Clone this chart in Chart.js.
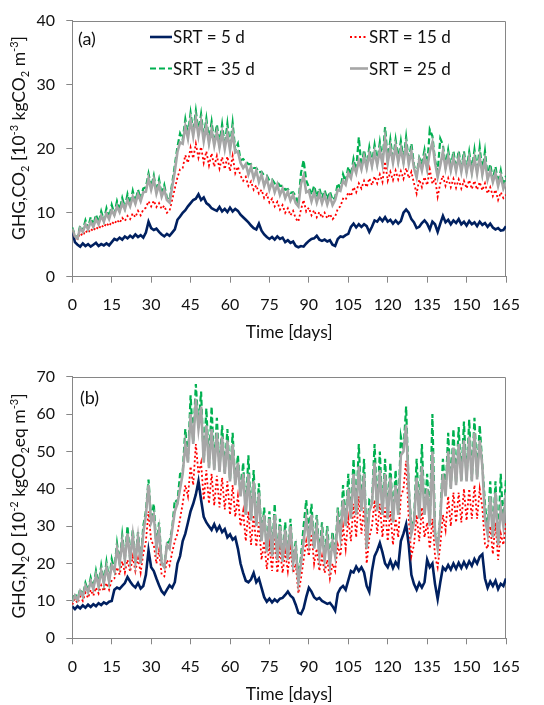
<!DOCTYPE html>
<html><head><meta charset="utf-8">
<script src="https://cdn.jsdelivr.net/npm/chart.js@4/dist/chart.umd.min.js"></script>
<style>
html,body{margin:0;padding:0;background:#fff;width:544px;height:705px;overflow:hidden}
canvas{position:absolute;left:0}
#ca{top:0}
#cb{top:350px}
</style></head><body>
<canvas id="ca" width="544" height="350"></canvas>
<canvas id="cb" width="544" height="355"></canvas>
<script>
// ---- data (daily samples, day 0..165) ----
const DAYS = Array.from({length:166},(_,i)=>i);
const X_TICK_STEP = 15;
const SERIES_NAMES = ['SRT = 5 d','SRT = 15 d','SRT = 35 d','SRT = 25 d'];

// Panel (a): GHG,CO2 [10^-3 kgCO2 m^-3]
const A_SRT5 = [
7.2,5.4,5.0,4.7,5.2,4.8,5.1,4.7,5.0,5.3,
4.8,5.1,4.9,5.2,4.9,5.4,5.9,5.7,6.1,5.8,
6.3,6.0,6.4,6.1,6.6,6.2,6.5,6.1,6.9,8.6,
7.6,7.3,7.5,7.0,6.6,6.3,6.7,6.4,6.9,7.4,
8.9,9.4,10.0,10.4,11.0,11.5,12.0,12.2,12.9,12.0,
12.4,11.5,11.2,10.7,10.5,10.3,10.9,10.2,10.6,10.1,
10.8,10.2,10.6,10.3,9.7,9.3,8.9,8.5,8.0,7.6,
7.4,8.3,7.2,6.6,6.2,5.9,6.2,5.8,6.3,5.9,
6.1,5.4,5.7,5.3,5.5,4.8,4.6,4.8,4.7,5.2,
5.6,5.9,6.0,6.4,5.8,5.6,5.8,5.5,5.7,5.0,
4.8,5.9,6.3,6.2,6.5,6.7,7.8,8.3,7.7,8.2,
7.8,8.2,7.9,7.0,7.8,8.8,8.6,9.2,8.7,9.3,
8.6,8.9,8.3,8.8,8.3,8.7,10.0,10.5,10.0,9.0,
8.5,7.6,7.8,8.4,8.8,8.3,7.4,8.6,8.2,7.0,
8.3,9.5,8.5,8.9,8.2,8.8,8.4,9.0,8.2,8.6,
8.0,8.7,8.2,8.5,7.9,8.6,8.1,8.4,7.8,8.3,
7.7,7.4,7.6,7.2,7.3,7.9];
const A_SRT15 = [
7.3,6.2,5.9,6.8,6.4,7.2,6.8,7.5,7.1,7.8,
7.4,8.1,7.7,8.4,7.9,8.6,8.2,8.9,8.4,9.2,
8.7,9.5,9.0,9.9,9.3,10.3,9.6,10.5,10.8,11.8,
11.0,11.9,10.9,11.5,10.6,11.1,10.0,10.3,12.0,13.8,
15.5,16.8,17.0,19.0,17.8,20.2,18.5,20.8,18.6,20.3,
17.8,19.6,17.4,19.3,17.2,18.9,16.9,18.7,16.8,18.8,
16.5,18.9,16.2,17.2,15.8,15.0,15.6,14.2,14.9,13.6,
14.3,13.0,13.6,12.3,12.9,11.6,12.2,11.0,11.7,10.5,
11.2,10.0,10.7,9.6,10.3,9.1,8.6,10.5,12.0,10.2,
10.8,9.6,10.4,9.3,10.1,9.2,10.0,9.1,9.8,9.0,
9.4,10.6,11.0,12.2,12.0,13.2,12.6,14.0,13.2,14.6,
13.8,15.0,14.0,15.4,14.3,15.7,14.6,16.0,14.8,18.0,
15.0,16.4,15.1,16.6,15.2,16.5,15.3,17.0,15.4,16.4,
14.6,13.0,15.2,14.0,15.6,14.3,16.8,14.5,15.4,12.5,
14.6,15.8,14.2,15.4,14.0,15.3,13.9,15.2,13.8,15.0,
13.8,15.1,13.7,15.0,13.6,14.8,13.5,14.6,13.0,14.0,
12.6,13.6,12.0,13.2,12.3,12.8];
const A_SRT35 = [
7.7,6.4,6.1,8.0,7.2,8.8,7.6,9.3,8.0,9.7,
8.4,10.2,8.8,10.7,9.2,11.2,9.8,11.8,10.4,12.3,
10.8,12.9,11.3,13.4,11.7,13.6,12.1,13.8,14.0,16.1,
14.0,15.8,13.3,15.2,12.8,14.3,12.3,12.0,14.6,17.4,
20.3,22.4,21.4,24.6,22.2,25.6,22.6,25.9,22.6,25.4,
21.8,24.7,21.3,24.2,21.0,23.8,20.7,23.8,20.5,23.9,
20.2,24.0,19.8,20.8,18.2,18.4,18.0,17.6,17.6,17.0,
17.0,16.3,16.4,15.8,15.8,15.0,15.2,14.6,14.8,14.2,
14.2,13.6,13.7,13.1,13.2,12.6,11.3,16.2,18.2,15.0,
14.0,12.8,14.2,12.5,13.8,12.3,13.5,12.1,13.3,12.0,
12.4,14.6,13.8,16.0,14.8,17.2,15.8,18.4,16.6,21.8,
17.2,19.8,17.4,20.2,17.7,20.6,17.9,21.0,18.0,23.4,
18.2,21.4,18.2,21.4,18.3,21.2,18.2,21.8,18.0,20.8,
17.4,16.0,18.6,17.6,19.8,17.2,23.0,22.0,18.2,16.4,
21.6,20.6,17.3,19.8,17.0,19.6,16.9,19.7,16.8,19.6,
16.7,19.5,16.6,19.8,16.5,20.2,16.4,19.6,15.6,17.6,
15.2,17.2,14.6,16.6,14.2,15.8];
const A_SRT25 = [
7.5,6.3,6.0,7.6,7.0,8.2,7.4,8.6,7.8,9.0,
8.2,9.5,8.6,9.9,9.0,10.4,9.6,11.0,10.1,11.5,
10.5,12.0,11.0,12.5,11.4,12.9,11.8,13.2,13.3,15.4,
13.6,15.2,13.0,14.4,12.5,13.6,12.0,11.6,14.0,16.5,
19.5,21.0,20.8,23.5,21.6,24.5,22.0,24.8,22.0,24.3,
21.2,23.6,20.8,23.0,20.5,22.6,20.2,22.5,20.0,22.4,
19.8,22.6,19.4,19.6,17.8,17.0,17.6,16.0,17.2,15.4,
16.6,14.8,16.0,14.2,15.4,13.6,14.8,13.2,14.4,12.8,
13.8,12.3,13.3,11.9,12.8,11.5,11.0,14.5,15.8,13.2,
13.4,11.8,13.2,11.6,13.0,11.5,12.8,11.3,12.6,11.2,
12.0,13.6,13.4,15.0,14.4,16.2,15.4,17.4,16.2,18.2,
16.8,18.8,17.0,19.2,17.3,19.5,17.5,19.8,17.6,21.6,
17.8,20.2,17.8,20.4,17.9,20.0,17.8,20.6,17.6,19.6,
17.0,15.5,18.2,16.6,18.8,16.8,19.5,21.0,17.8,15.6,
17.4,19.6,16.9,18.8,16.6,18.6,16.5,18.7,16.4,18.6,
16.3,18.5,16.2,18.6,16.1,18.7,16.0,18.2,15.2,16.6,
14.8,16.2,14.2,15.8,13.8,14.8];

// Panel (b): GHG,N2O [10^-2 kgCO2eq m^-3]
const B_SRT5 = [
8.5,7.8,8.6,8.0,8.8,8.2,9.0,8.4,9.1,8.6,
9.4,8.9,9.6,9.2,9.8,10.0,13.0,13.6,13.2,14.0,
14.8,16.4,15.2,14.2,13.6,14.8,13.3,14.0,17.0,23.5,
19.0,18.0,16.0,14.2,12.6,11.8,13.0,14.2,13.5,15.0,
20.0,22.0,26.0,28.0,31.0,34.0,36.0,38.5,42.0,37.0,
32.5,31.0,30.0,29.0,30.5,28.8,30.0,28.4,29.2,27.0,
27.8,26.4,27.0,24.0,20.0,17.5,15.4,15.0,15.8,17.5,
15.0,16.0,13.5,11.0,9.8,10.6,9.6,10.4,9.8,10.6,
10.8,11.6,12.5,11.4,10.8,9.0,6.8,6.5,8.0,11.0,
13.5,12.5,11.0,10.4,10.8,10.0,9.6,9.2,9.5,8.6,
7.4,12.0,13.4,14.0,13.0,15.5,18.0,17.6,19.2,18.0,
19.0,17.6,14.0,12.4,18.0,22.0,23.5,25.5,23.0,20.0,
19.0,20.8,18.8,20.4,19.2,26.0,28.0,30.5,25.0,17.0,
14.5,13.0,14.8,13.6,15.0,21.0,19.0,20.0,14.5,10.5,
15.0,19.0,18.2,19.6,18.4,20.0,18.6,20.2,18.8,20.4,
19.0,20.6,19.4,21.2,20.0,21.8,22.5,16.0,13.5,15.2,
14.0,15.4,13.2,14.6,14.0,16.0];
const B_SRT15 = [
9.0,10.6,9.4,11.2,10.0,12.2,10.8,13.0,11.4,13.6,
12.0,14.2,12.6,14.8,13.0,15.6,16.0,19.0,17.0,20.6,
17.6,21.0,17.8,21.8,18.0,21.4,17.6,22.6,26.0,34.0,
26.0,25.0,20.0,23.6,17.0,16.6,21.0,19.5,23.0,26.0,
28.0,32.0,36.0,41.0,38.0,46.0,41.0,52.0,44.0,47.0,
37.0,45.0,36.0,44.0,35.5,43.5,35.0,43.0,34.5,42.0,
33.0,41.0,32.5,38.0,30.0,34.0,26.0,34.0,25.0,33.0,
24.5,31.0,21.0,26.0,18.5,25.0,18.0,27.0,17.5,24.0,
17.5,23.0,18.0,24.0,17.5,20.0,12.0,16.0,21.0,26.0,
22.0,28.0,20.0,24.0,18.0,22.0,17.5,21.0,16.0,20.0,
18.0,25.0,22.0,30.0,24.0,32.0,26.0,36.0,27.0,38.0,
28.0,35.0,20.0,27.0,30.0,37.0,28.0,36.0,27.0,35.0,
26.0,34.0,25.0,32.0,27.0,38.0,40.0,47.5,32.0,22.0,
25.0,33.0,26.0,35.0,27.0,31.0,24.0,32.0,22.0,19.0,
25.0,33.0,29.0,38.0,30.0,39.0,31.0,39.0,31.0,40.0,
31.5,40.0,32.0,41.0,32.0,40.0,35.0,25.0,24.0,30.0,
22.5,31.0,21.0,28.0,25.0,31.0];
const B_SRT35 = [
10.0,12.0,10.4,13.2,11.4,14.8,12.6,16.2,13.4,18.0,
14.2,19.4,15.0,20.4,15.4,21.2,18.4,25.4,20.2,27.6,
21.2,30.0,21.2,29.0,20.6,28.4,20.2,30.0,34.0,42.5,
31.4,36.0,24.2,31.0,20.2,19.4,25.4,26.0,29.4,37.0,
36.4,44.0,44.4,56.0,47.4,65.0,52.4,68.0,56.4,66.0,
47.4,61.5,46.0,62.0,45.4,59.0,45.0,57.0,44.4,56.0,
42.4,55.0,41.4,49.0,38.4,47.0,33.4,49.0,32.0,45.0,
30.4,41.5,26.4,35.0,23.4,34.0,22.4,36.0,21.4,32.0,
21.0,31.0,21.4,32.0,20.4,26.0,15.4,22.0,30.0,37.0,
28.0,36.0,24.4,33.0,22.4,31.0,21.4,30.0,20.0,28.5,
22.4,35.0,27.4,41.0,30.4,44.0,32.4,48.0,33.4,52.0,
34.4,48.0,24.4,37.0,36.4,52.0,34.4,50.0,33.4,48.0,
32.4,47.0,31.4,45.0,33.4,54.0,50.4,62.0,40.4,30.0,
31.4,48.0,32.4,52.0,33.4,44.0,30.4,60.0,28.4,25.0,
32.4,48.0,38.4,55.0,40.4,56.0,41.4,56.5,42.4,58.0,
42.4,58.5,42.4,59.0,43.0,57.0,46.4,36.0,28.4,42.0,
27.4,42.0,25.4,44.0,30.4,43.0];
const B_SRT25 = [
9.8,11.4,10.2,12.6,11.2,14.0,12.4,15.2,13.2,16.8,
14.0,18.0,14.8,19.0,15.2,19.6,18.0,24.0,20.0,26.0,
21.0,28.0,21.0,27.5,20.5,27.0,20.0,28.0,33.0,41.0,
31.0,33.0,24.0,29.0,20.0,19.0,25.0,24.0,29.0,34.0,
36.0,40.0,44.0,52.0,47.0,60.0,52.0,64.0,56.0,62.0,
47.0,57.0,45.5,56.0,45.0,55.0,44.5,54.0,44.0,53.0,
42.0,52.0,41.0,47.0,38.0,44.0,33.0,44.0,31.5,42.0,
30.0,39.0,26.0,33.0,23.0,32.0,22.0,33.0,21.0,30.0,
20.5,29.0,21.0,30.0,20.0,24.0,15.0,20.0,26.0,32.0,
26.0,33.0,24.0,30.0,22.0,28.0,21.0,27.0,19.5,26.0,
22.0,32.0,27.0,37.0,30.0,40.0,32.0,44.0,33.0,46.0,
34.0,44.0,24.0,34.0,36.0,47.0,34.0,45.0,33.0,44.0,
32.0,43.0,31.0,41.0,33.0,49.0,50.0,57.0,40.0,28.0,
31.0,43.0,32.0,46.0,33.0,40.0,30.0,50.0,28.0,24.0,
32.0,44.0,38.0,50.0,40.0,51.0,41.0,52.0,42.0,53.0,
42.0,54.0,42.0,55.0,42.5,53.0,46.0,32.0,28.0,38.0,
27.0,39.0,25.0,35.0,30.0,39.0];

// ---- styling ----
const FONT = 'Lato, "Noto Sans", sans-serif';
const AXIS_GREY = '#868686';
const STYLES = [
  {color:'#002060', width:2.6, dash:[], order:3},   // SRT 5
  {color:'#FF0000', width:1.8, dash:[2,2.5], order:2}, // SRT 15
  {color:'#00B050', width:2.2, dash:[6,3], order:1},   // SRT 35
  {color:'#A6A6A6', width:2.6, dash:[], order:0}    // SRT 25
];

function richDraw(ctx, segs, x, y, size){
  const small = Math.round(size*0.64);
  for (const s of segs){
    ctx.font = (s[1] ? small : size) + 'px ' + FONT;
    const dy = s[1]==='sub' ? size*0.25 : s[1]==='sup' ? -size*0.38 : 0;
    ctx.fillText(s[0], x, y+dy);
    x += ctx.measureText(s[0]).width;
  }
}
function richWidth(ctx, segs, size){
  const small = Math.round(size*0.64); let w=0;
  for (const s of segs){ ctx.font=(s[1]?small:size)+'px '+FONT; w+=ctx.measureText(s[0]).width; }
  return w;
}

const decor = {
  id:'decor',
  beforeDatasetsDraw(chart, args, o){
    const {ctx, chartArea:a} = chart;
    ctx.save();
    ctx.strokeStyle = AXIS_GREY; ctx.lineWidth = 1;
    ctx.beginPath();
    ctx.moveTo(Math.round(a.left)+0.5, Math.round(a.top)+0.5);
    ctx.lineTo(Math.round(a.right)-0.5, Math.round(a.top)+0.5);
    ctx.lineTo(Math.round(a.right)-0.5, Math.round(a.bottom));
    ctx.stroke();
    ctx.restore();
  },
  afterDraw(chart, args, o){
    const {ctx, chartArea:a} = chart;
    ctx.save();
    ctx.fillStyle = '#111';
    ctx.textBaseline = 'alphabetic';
    // panel label
    ctx.font = '18px ' + FONT;
    ctx.textAlign = 'left';
    ctx.fillText(o.panel, o.panelX, o.panelY);
    // x title
    ctx.textAlign = 'center';
    ctx.font = '17.5px ' + FONT;
    ctx.fillText('Time [days]', (a.left+a.right)/2, o.xTitleY);
    // y title (rotated, rich text)
    ctx.textAlign = 'left';
    const w = richWidth(ctx, o.yTitle, 17.5);
    ctx.translate(25, o.yTitleC);
    ctx.rotate(-Math.PI/2);
    richDraw(ctx, o.yTitle, -w/2, 0, 17.5);
    ctx.restore();
    // legend
    if (o.legend){
      ctx.save();
      ctx.textBaseline = 'middle';
      ctx.textAlign = 'left';
      ctx.font = '17px ' + FONT;
      chart.data.datasets.forEach((ds, i) => {
        const L = o.legend[i];
        ctx.save();
        ctx.strokeStyle = ds.borderColor; ctx.lineWidth = ds.borderWidth;
        ctx.setLineDash(ds.borderDash || []);
        ctx.beginPath(); ctx.moveTo(L[0], L[2]); ctx.lineTo(L[1], L[2]); ctx.stroke();
        ctx.restore();
        ctx.fillStyle = '#111';
        ctx.fillText(ds.label, L[1]+1, L[2]+1);
      });
      ctx.restore();
    }
  }
};

function makeChart(id, series, yMax, g, deco){
  const datasets = series.map((vals, i) => ({
    label: SERIES_NAMES[i],
    data: DAYS.map((d, k) => ({x:d, y:vals[k]})),
    borderColor: STYLES[i].color,
    borderWidth: STYLES[i].width,
    borderDash: STYLES[i].dash,
    order: STYLES[i].order,
    pointRadius: 0, tension: 0, fill:false
  }));
  const tickFont = {family: FONT, size: 16};
  return new Chart(document.getElementById(id), {
    type:'line',
    data:{datasets},
    plugins:[decor],
    options:{
      responsive:false, animation:false, devicePixelRatio:1,
      layout:{padding:{left:0, right:38, top:g.top, bottom:0}},
      plugins:{legend:{display:false}, tooltip:{enabled:false}, decor:deco},
      scales:{
        x:{type:'linear', min:0, max:165,
          ticks:{stepSize:X_TICK_STEP, font:tickFont, color:'#111', padding:12.7, maxRotation:0, autoSkip:false},
          grid:{drawOnChartArea:false, drawTicks:true, tickLength:6, color:AXIS_GREY},
          border:{display:true, color:AXIS_GREY, width:1},
          afterFit(s){ s.height = g.xh; }
        },
        y:{min:0, max:yMax,
          ticks:{stepSize:10, font:tickFont, color:'#111', padding:11.3},
          grid:{drawOnChartArea:false, drawTicks:true, tickLength:6, color:AXIS_GREY},
          border:{display:true, color:AXIS_GREY, width:1},
          afterFit(s){ s.width = 72.3; }
        }
      }
    }
  });
}

makeChart('ca', [A_SRT5, A_SRT15, A_SRT35, A_SRT25], 40, {top:16, xh:73.3}, {
  panel:'(a)', panelX:78, panelY:44.5, xTitleY:338.3, yTitleC:138,
  yTitle:[['GHG,CO'],['2','sub'],[' [10'],['-3','sup'],[' kgCO'],['2','sub'],[' m'],['-3','sup'],[']']],
  legend:[[150,172,37],[350,368,37],[150,172,68.5],[350,368,68.5]]
});
makeChart('cb', [B_SRT5, B_SRT15, B_SRT35, B_SRT25], 70, {top:26.7, xh:66.7}, {
  panel:'(b)', panelX:80, panelY:54, xTitleY:350, yTitleC:156,
  yTitle:[['GHG,N'],['2','sub'],['O [10'],['-2','sup'],[' kgCO'],['2','sub'],['eq m'],['-3','sup'],[']']],
  legend:null
});
</script>
</body></html>
